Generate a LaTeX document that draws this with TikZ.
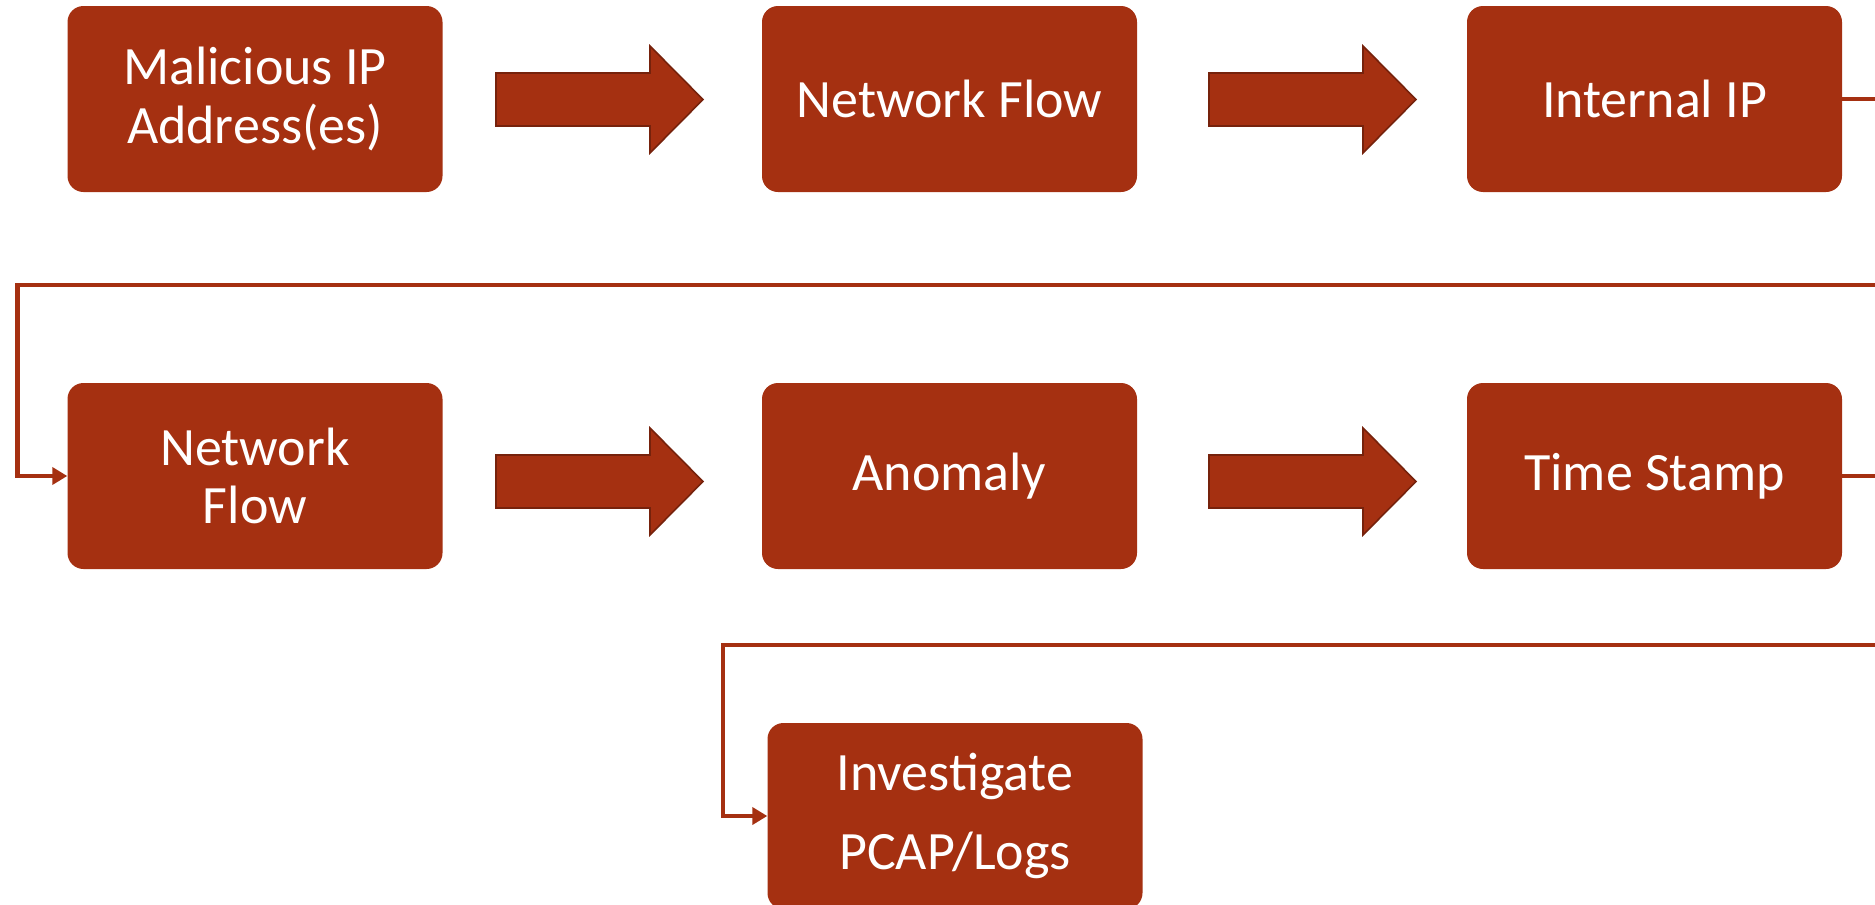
\documentclass[tikz,border=0pt]{standalone}
\usepackage{fontspec}
\setmainfont{Carlito}
\usetikzlibrary{arrows.meta}
\definecolor{boxred}{RGB}{165,48,17}
\definecolor{arrowedge}{RGB}{118,34,12}
\tikzset{
  flowbox/.style={rectangle, rounded corners=16pt, fill=boxred, text=white,
    minimum width=375pt, minimum height=186pt, inner sep=0pt, align=center,
    font=\fontsize{54}{58.5}\selectfont},
  connector/.style={draw=boxred, line width=4.6pt,
    -{Triangle[length=15pt,width=17pt]}},
  blockarrow/.style={fill=boxred, draw=arrowedge, line width=1.6pt, line join=miter},
}
\begin{document}
\begin{tikzpicture}[x=1pt,y=-1pt]
\useasboundingbox (0,0) rectangle (1875,905);
\clip (0,0) rectangle (1875,905);

% boxes
\node[flowbox] (mal) at (255,99) {Malicious IP\\Address(es)};
\node[flowbox] (nf1) at (949.5,99) {Network Flow};
\node[flowbox] (iip) at (1654.5,99) {Internal IP};
\node[flowbox] (nf2) at (255,476) {Network\\Flow};
\node[flowbox] (ano) at (949.5,476) {Anomaly};
\node[flowbox] (tst) at (1654.5,476) {Time Stamp};
\node[flowbox, font=\fontsize{54}{79}\selectfont] (inv) at (955,816) {Investigate\\PCAP/Logs};

% block arrows
\foreach \xa/\yy in {496/99.5, 1209/99.5, 496/481.5, 1209/481.5}{
  \draw[blockarrow] (\xa,\yy-26.5) -- ++(154,0) -- ++(0,-27) -- ++(53,53.5)
    -- ++(-53,53.5) -- ++(0,-27) -- ++(-154,0) -- cycle;
}

% connectors
\coordinate (r1) at (1905,99);
\coordinate (r2) at (1905,285);
\coordinate (l1) at (17.5,285);
\coordinate (l2) at (17.5,476);
\draw[connector] (iip.east) -- (r1) -- (r2) -- (l1) -- (l2) -- (nf2.west);

\coordinate (s1) at (1905,476);
\coordinate (s2) at (1905,645);
\coordinate (t1) at (723,645);
\coordinate (t2) at (723,816);
\draw[connector] (tst.east) -- (s1) -- (s2) -- (t1) -- (t2) -- (inv.west);
\end{tikzpicture}
\end{document}
